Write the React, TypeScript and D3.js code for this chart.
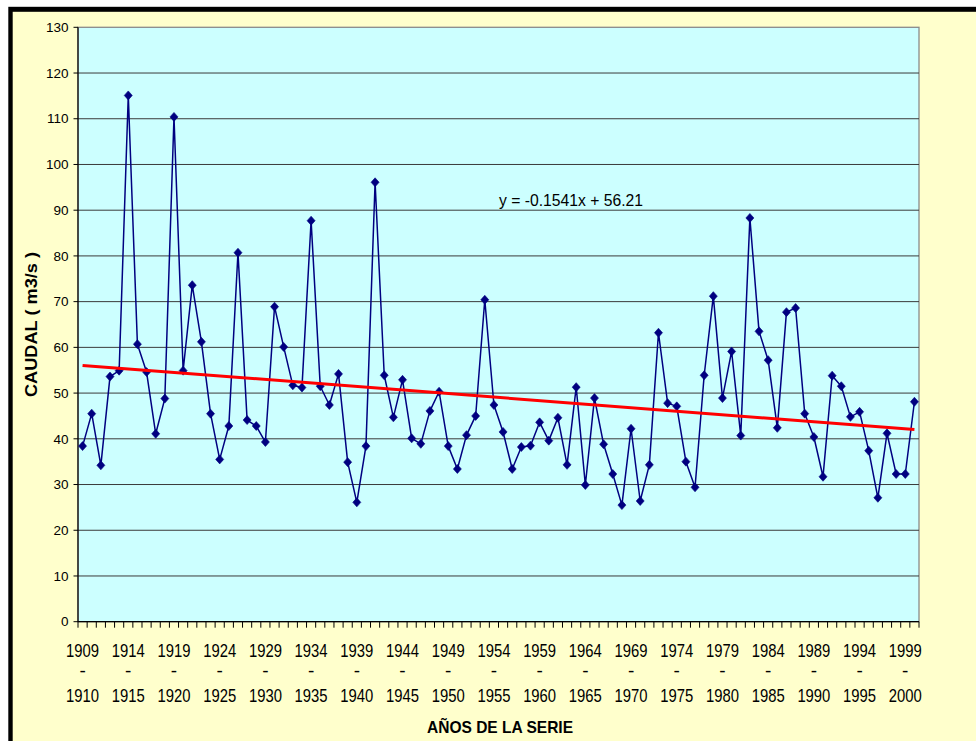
import React from 'react';
import * as d3 from 'd3';

// Seasons 1909-1910 ... 2000-2001 (92 hydrological years)
const startYears: number[] = d3.range(1909, 2001);
const seasons: string[] = startYears.map((y) => `${y}-${y + 1}`);

// Caudal (m3/s)
const caudal: number[] = [
  38.4, 45.5, 34.2, 53.6, 54.9, 115.1, 60.7, 54.6, 41.1, 48.8,
  110.4, 54.9, 73.6, 61.2, 45.5, 35.5, 42.8, 80.7, 44.1, 42.8,
  39.3, 68.9, 60.1, 51.7, 51.2, 87.7, 51.5, 47.4, 54.2, 34.9,
  26.1, 38.4, 96.1, 53.9, 44.7, 52.9, 40.1, 38.9, 46.1, 50.3,
  38.4, 33.4, 40.8, 45.0, 70.4, 47.4, 41.5, 33.4, 38.2, 38.5,
  43.6, 39.6, 44.6, 34.3, 51.3, 29.9, 48.9, 38.8, 32.3, 25.5,
  42.2, 26.4, 34.3, 63.2, 47.8, 47.1, 35.0, 29.4, 53.9, 71.2,
  48.9, 59.1, 40.7, 88.3, 63.5, 57.2, 42.4, 67.7, 68.6, 45.5,
  40.4, 31.7, 53.8, 51.5, 44.8, 45.9, 37.4, 27.1, 41.2, 32.3,
  32.3, 48.1,
];

const yTicks: number[] = [0, 10, 20, 30, 40, 50, 60, 70, 80, 90, 100, 110, 120, 130];
const labelEvery = 5;
const trendSlope = -0.1541;
const trendIntercept = 56.21;
const trendLabel = 'y = -0.1541x + 56.21';
const yTitle = 'CAUDAL ( m3/s )';
const xTitle = 'AÑOS DE LA SERIE';

const FONT = "'Liberation Sans', Arial, Helvetica, sans-serif";

export default function App() {
  const W = 976;
  const H = 741;
  const left = 78;
  const right = 919;
  const top = 27.3;
  const bottom = 621.7;

  const x = d3.scaleBand<string>().domain(seasons).range([left, right]).padding(0);
  const y = d3.scaleLinear().domain([0, 130]).range([bottom, top]);
  const bw = x.bandwidth();
  const cx = (s: string) => (x(s) as number) + bw / 2;

  const linePath = d3
    .line<number>()
    .x((_, i) => cx(seasons[i]))
    .y((d) => y(d))(caudal) as string;

  const n = seasons.length;
  const trendPath = d3
    .line<number>()
    .x((i) => cx(seasons[i - 1]))
    .y((i) => y(trendSlope * i + trendIntercept))([1, n]) as string;

  const diamond = 'M0,-4.5L4,0L0,4.5L-4,0Z';

  const boundaries = d3.range(0, n + 1).map((i) => left + i * bw);

  return (
    <div style={{ position: 'absolute', left: 0, top: 0, width: W, height: H, overflow: 'hidden', background: '#fff' }}>
      <svg width={W} height={H} style={{ display: 'block' }} fontFamily={FONT}>
        <rect x={0} y={0} width={W} height={H} fill="#ffffff" />
        <rect x={8.3} y={6.8} width={W} height={H} fill="#000000" />
        <rect x={12.7} y={11.8} width={W} height={H} fill="#FFFFCC" />

        {/* plot area */}
        <rect x={left} y={top} width={right - left} height={bottom - top} fill="#CCFFFF" stroke="#8a8a8a" strokeWidth={1.3} />

        {/* gridlines */}
        {yTicks
          .filter((t) => t > 0 && t < 130)
          .map((t) => (
            <line key={'g' + t} x1={left} x2={right} y1={y(t)} y2={y(t)} stroke="#3a3a3a" strokeWidth={1} />
          ))}

        {/* y axis */}
        <line x1={left} x2={left} y1={top} y2={bottom} stroke="#000" strokeWidth={1.2} />
        {yTicks.map((t) => (
          <g key={'yt' + t}>
            <line x1={left - 4.5} x2={left} y1={y(t)} y2={y(t)} stroke="#000" strokeWidth={1} />
            <text x={68.5} y={y(t) + 4.7} textAnchor="end" fontSize={13.5} fill="#000">
              {t}
            </text>
          </g>
        ))}

        {/* x axis */}
        <line x1={left} x2={right} y1={bottom} y2={bottom} stroke="#000" strokeWidth={1.2} />
        {boundaries.map((bx, i) => (
          <line key={'xt' + i} x1={bx} x2={bx} y1={bottom} y2={bottom + 6} stroke="#000" strokeWidth={1} />
        ))}
        {seasons.map((s, i) =>
          i % labelEvery === 0 && i < n - 1 ? (
            <g key={'xl' + s} fontSize={19} fill="#000" textAnchor="middle">
              <text x={cx(s)} y={656.7} textLength={33} lengthAdjust="spacingAndGlyphs">
                {s.split('-')[0]}
              </text>
              <text x={cx(s)} y={677}>-</text>
              <text x={cx(s)} y={701.7} textLength={33} lengthAdjust="spacingAndGlyphs">
                {s.split('-')[1]}
              </text>
            </g>
          ) : null
        )}

        {/* series line */}
        <path d={linePath} fill="none" stroke="#000080" strokeWidth={1.5} strokeLinejoin="round" />
        {caudal.map((v, i) => (
          <path key={'m' + i} d={diamond} transform={`translate(${cx(seasons[i])},${y(v)})`} fill="#000080" stroke="#000080" strokeWidth={0.6} />
        ))}

        {/* trend line */}
        <path d={trendPath} fill="none" stroke="#FF0000" strokeWidth={3} />
        <text x={499} y={206} fontSize={16} fill="#000" textLength={144} lengthAdjust="spacingAndGlyphs">
          {trendLabel}
        </text>

        {/* titles */}
        <text
          transform={`translate(37.3,324.5) rotate(-90)`}
          textAnchor="middle"
          fontSize={17}
          fontWeight="bold"
          fill="#000"
          textLength={145}
          lengthAdjust="spacingAndGlyphs"
        >
          {yTitle}
        </text>
        <text x={500} y={732.7} textAnchor="middle" fontSize={17} fontWeight="bold" fill="#000" textLength={146} lengthAdjust="spacingAndGlyphs">
          {xTitle}
        </text>
      </svg>
    </div>
  );
}
